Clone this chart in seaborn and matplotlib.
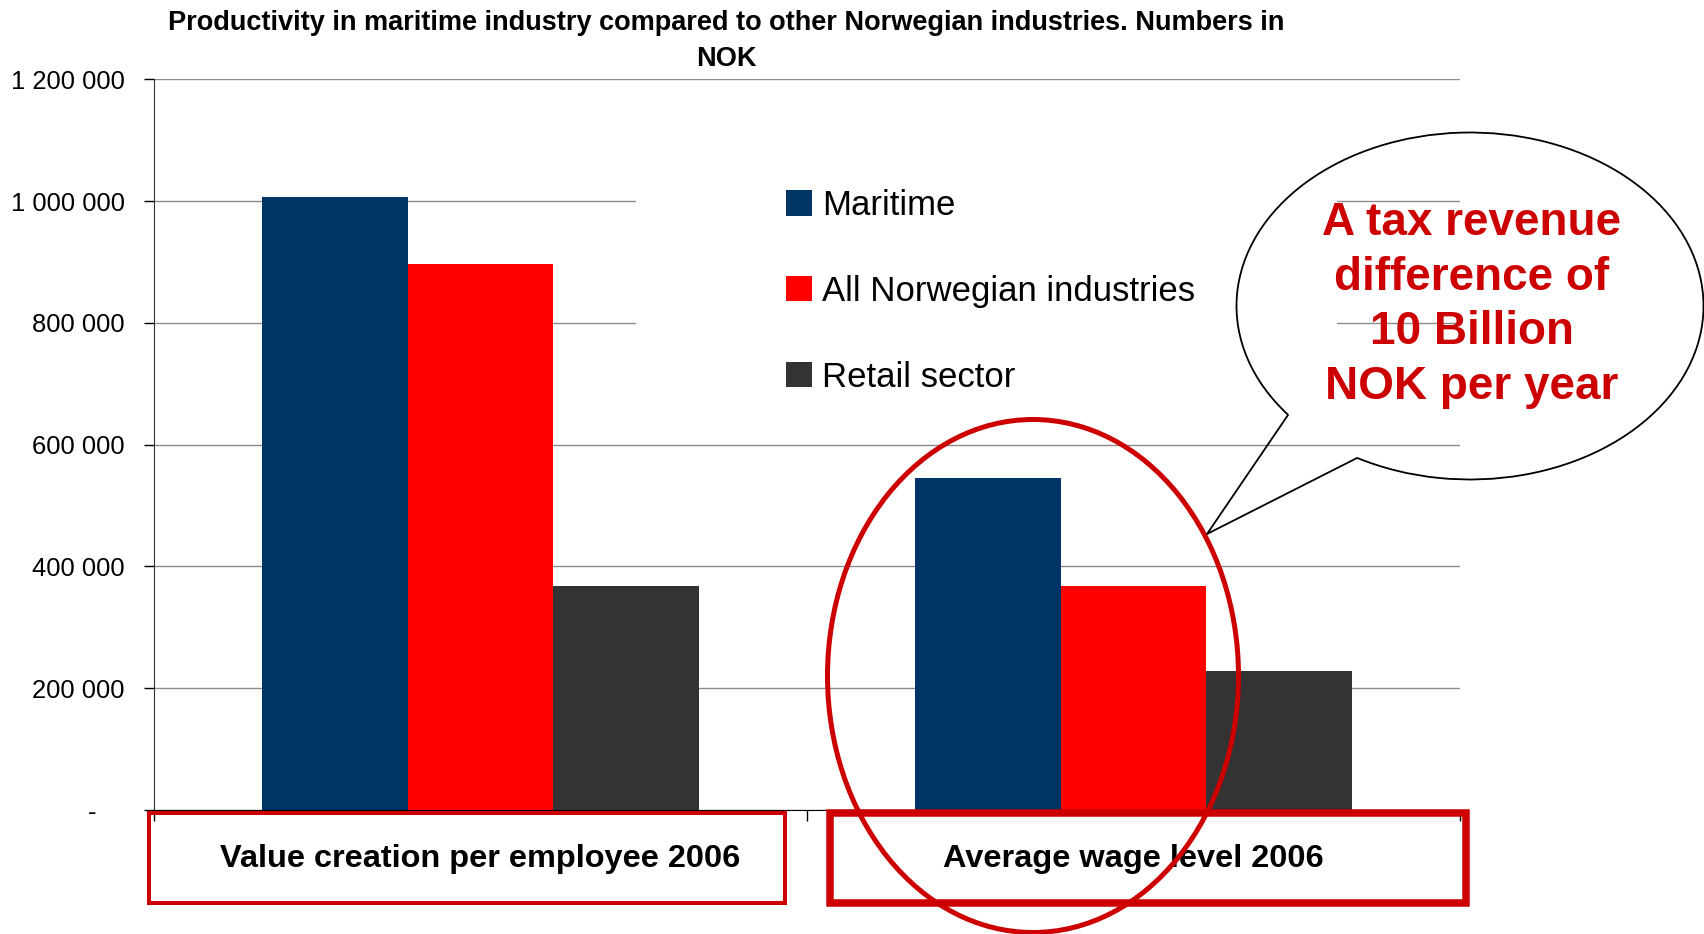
import matplotlib
matplotlib.use("Agg")
import matplotlib.pyplot as plt
from matplotlib.patches import Patch, Rectangle, Ellipse, Arc
from matplotlib.ticker import FuncFormatter, FixedLocator
import pandas as pd
import seaborn as sns

# data
categories = ["Value creation per employee 2006", "Average wage level 2006"]
series = ["Maritime", "All Norwegian industries", "Retail sector"]
maritime = [1007000, 546000]
all_industries = [896000, 368000]
retail = [368000, 229000]
y_ticks = [0, 200000, 400000, 600000, 800000, 1000000, 1200000]

colors = {"Maritime": "#003366", "All Norwegian industries": "#FF0000", "Retail sector": "#333333"}
dark_red = "#CC0000"

df = pd.DataFrame({
    "category": categories * 3,
    "series": [s for s in series for _ in categories],
    "value": maritime + all_industries + retail,
})

sns.set_style("white")
plt.rcParams["font.family"] = ["Liberation Sans", "DejaVu Sans"]
plt.rcParams["text.color"] = "black"
plt.rcParams["xtick.color"] = "black"
plt.rcParams["ytick.color"] = "black"

W, H = 1704, 934
fig = plt.figure(figsize=(W / 100, H / 100), dpi=100)
ax = fig.add_axes([154 / W, 1 - 810 / H, (1460 - 154) / W, (810 - 79.3) / H])

sns.barplot(data=df, x="category", y="value", hue="series", order=categories,
            hue_order=series, palette=colors, saturation=1, width=0.67,
            edgecolor="none", linewidth=0, legend=False, ax=ax)

ax.set_xlim(-0.5, 1.5)
ax.set_ylim(0, 1200000)
ax.yaxis.set_major_locator(FixedLocator(y_ticks))
ax.yaxis.set_major_formatter(FuncFormatter(
    lambda v, p: "-    " if v == 0 else f"{v:,.0f}".replace(",", " ")))
ax.set_axisbelow(True)
ax.grid(axis="y", color="#8C8C8C", lw=1)
ax.set_xlabel("")
ax.set_ylabel("")

ax.tick_params(axis="y", left=True, length=7, width=1, color="black", pad=14, labelsize=18.4,
               labelcolor="black")
ax.tick_params(axis="x", which="major", length=0, pad=24.5, labelsize=23.4, labelcolor="black")
ax.set_xticks([-0.5, 0.5, 1.5], minor=True)
ax.tick_params(axis="x", which="minor", bottom=True, length=8, width=1, color="black")
for lab in ax.get_xticklabels():
    lab.set_fontweight("bold")

for s in ["top", "right"]:
    ax.spines[s].set_visible(False)
ax.spines["left"].set_color("#333333")
ax.spines["bottom"].set_color("black")

# white block behind the legend hides the gridlines there
ax.add_patch(Rectangle((0.369, 0.534), 0.537, 0.383, transform=ax.transAxes,
                       facecolor="white", edgecolor="none", zorder=0.8))

handles = [Patch(facecolor=colors[s], edgecolor="none") for s in series]
ax.legend(handles, series, loc="upper left", bbox_to_anchor=(786 / W, 1 - 189 / H),
          bbox_transform=fig.transFigure, frameon=False, fontsize=25,
          handlelength=0.75, handleheight=0.75, handletextpad=0.3,
          labelspacing=1.52, borderpad=0, borderaxespad=0)

fig.text(726 / W, 1 - 10 / H,
         "Productivity in maritime industry compared to other Norwegian industries. Numbers in\nNOK",
         ha="center", va="top", fontsize=19.5, fontweight="bold", linespacing=1.52)

# annotation layer in pixel coordinates
ov = fig.add_axes([0, 0, 1, 1])
ov.set_xlim(0, W)
ov.set_ylim(H, 0)
ov.set_axis_off()

ov.add_patch(Rectangle((149, 813), 636, 90, fill=False, ec=dark_red, lw=2.9))
ov.add_patch(Rectangle((830, 813), 636, 90, fill=False, ec=dark_red, lw=5.4))
ov.add_patch(Ellipse((1033, 676), 411, 513, fill=False, ec=dark_red, lw=3.6))

# speech bubble: open ellipse plus tail
ov.add_patch(Arc((1470, 306), 467, 347, theta1=149.1, theta2=126.6, color="black", lw=1.3))
ov.plot([1288, 1207, 1357], [415, 534, 458], color="black", lw=1.3)
ov.text(1472, 305, "A tax revenue\ndifference of\n10 Billion\nNOK per year",
        ha="center", va="center", fontsize=33, fontweight="bold", color=dark_red,
        linespacing=1.32)

fig.savefig("out.png", dpi=100)
plt.close(fig)
